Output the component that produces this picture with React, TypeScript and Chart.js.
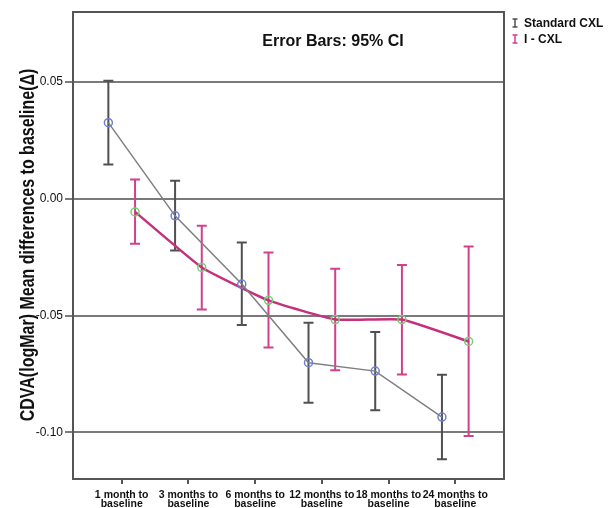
import React, { useEffect, useRef } from "react";
import { Chart, registerables } from "chart.js";

Chart.register(...registerables);

const categories: string[][] = [
  ["1 month to", "baseline"],
  ["3 months to", "baseline"],
  ["6 months to", "baseline"],
  ["12 months to", "baseline"],
  ["18 months to", "baseline"],
  ["24 months to", "baseline"],
];

const standardMean = [0.0326, -0.0073, -0.0365, -0.0702, -0.0738, -0.0935];
const standardLower = [0.0147, -0.0221, -0.054, -0.0873, -0.0906, -0.1115];
const standardUpper = [0.0506, 0.0077, -0.0187, -0.0531, -0.057, -0.0754];

const icxlMean = [-0.0056, -0.0294, -0.0435, -0.0517, -0.0517, -0.0611];
const icxlLower = [-0.0192, -0.0474, -0.0637, -0.0734, -0.0752, -0.1016];
const icxlUpper = [0.0083, -0.0115, -0.023, -0.03, -0.0283, -0.0204];

const yTicks = [-0.1, -0.05, 0, 0.05];
const seriesNames = ["Standard CXL", "I - CXL"];
const noteText = "Error Bars: 95% CI";
const yTitle = "CDVA(logMar) Mean differences to baseline(\u0394)";

const FONT = '"Liberation Sans", Arial, sans-serif';
const STD_LINE = "#7f7f7f";
const STD_BAR = "#505050";
const STD_MARK = "#6f80d2";
const ICXL_LINE = "#c4307c";
const ICXL_BAR = "#d2408c";
const ICXL_MARK = "#72d072";
const OFFSET = 0.2;

export default function App() {
  const ref = useRef<HTMLCanvasElement | null>(null);

  useEffect(() => {
    const canvas = ref.current;
    if (!canvas) return;

    const errorBars = {
      id: "errorBars",
      beforeDatasetsDraw(chart: any) {
        const ctx = chart.ctx;
        const xs = chart.scales.x;
        const ys = chart.scales.y;
        const groups = [
          { lo: standardLower, hi: standardUpper, off: -OFFSET, color: STD_BAR },
          { lo: icxlLower, hi: icxlUpper, off: OFFSET, color: ICXL_BAR },
        ];
        ctx.save();
        for (const g of groups) {
          ctx.strokeStyle = g.color;
          ctx.lineWidth = 2;
          for (let i = 0; i < categories.length; i++) {
            const x = xs.getPixelForValue(i + g.off);
            const y1 = ys.getPixelForValue(g.lo[i]);
            const y2 = ys.getPixelForValue(g.hi[i]);
            ctx.beginPath();
            ctx.moveTo(x, y1);
            ctx.lineTo(x, y2);
            ctx.moveTo(x - 5, y1);
            ctx.lineTo(x + 5, y1);
            ctx.moveTo(x - 5, y2);
            ctx.lineTo(x + 5, y2);
            ctx.stroke();
          }
        }
        ctx.restore();
      },
      afterDraw(chart: any) {
        const ctx = chart.ctx;
        const a = chart.chartArea;
        ctx.save();
        ctx.strokeStyle = "#555555";
        ctx.lineWidth = 2;
        ctx.strokeRect(a.left, a.top, a.right - a.left, a.bottom - a.top);
        ctx.fillStyle = "#111111";
        ctx.font = `bold 16px ${FONT}`;
        ctx.textAlign = "center";
        ctx.textBaseline = "middle";
        ctx.fillText(noteText, 333, 42);
        ctx.save();
        ctx.translate(33.5, 245);
        ctx.rotate(-Math.PI / 2);
        ctx.scale(1, 1.3);
        ctx.textBaseline = "alphabetic";
        ctx.font = `bold 16px ${FONT}`;
        ctx.fillText(yTitle, 0, 0);
        ctx.restore();
        const colors = [STD_BAR, ICXL_BAR];
        ctx.font = `bold 12px ${FONT}`;
        ctx.textAlign = "left";
        ctx.textBaseline = "middle";
        for (let i = 0; i < seriesNames.length; i++) {
          const cy = 23 + i * 16;
          const ix = 515;
          ctx.strokeStyle = colors[i];
          ctx.lineWidth = 1.5;
          ctx.beginPath();
          ctx.moveTo(ix, cy - 4);
          ctx.lineTo(ix, cy + 4);
          ctx.moveTo(ix - 2.5, cy - 4);
          ctx.lineTo(ix + 2.5, cy - 4);
          ctx.moveTo(ix - 2.5, cy + 4);
          ctx.lineTo(ix + 2.5, cy + 4);
          ctx.stroke();
          ctx.fillStyle = "#111111";
          ctx.fillText(seriesNames[i], 524, cy + 0.5);
        }
        ctx.restore();
      },
    };

    const chart = new Chart(canvas, {
      type: "line",
      data: {
        datasets: [
          {
            label: seriesNames[0],
            data: standardMean.map((v, i) => ({ x: i - OFFSET, y: v })),
            borderColor: STD_LINE,
            borderWidth: 1.5,
            pointRadius: 4,
            pointBorderWidth: 1.5,
            pointBorderColor: STD_MARK,
            pointBackgroundColor: "rgba(255,255,255,0)",
            tension: 0,
            fill: false,
          },
          {
            label: seriesNames[1],
            data: icxlMean.map((v, i) => ({ x: i + OFFSET, y: v })),
            borderColor: ICXL_LINE,
            borderWidth: 2.5,
            pointRadius: 4,
            pointBorderWidth: 1.5,
            pointBorderColor: ICXL_MARK,
            pointBackgroundColor: "rgba(255,255,255,0)",
            tension: 0.12,
            fill: false,
          },
        ],
      },
      options: {
        responsive: false,
        animation: false,
        layout: { padding: { left: 0, right: 112, top: 12, bottom: 0 } },
        plugins: {
          legend: { display: false },
          tooltip: { enabled: false },
          title: { display: false },
        },
        scales: {
          x: {
            type: "linear",
            min: -0.73,
            max: 5.73,
            afterFit(scale: any) {
              scale.height = 29;
            },
            afterBuildTicks(scale: any) {
              scale.ticks = categories.map((_, i) => ({ value: i }));
            },
            grid: {
              drawOnChartArea: false,
              drawTicks: true,
              tickLength: 5,
              color: "#555555",
              lineWidth: 2,
            },
            border: { display: true, color: "#555555", width: 2 },
            ticks: {
              autoSkip: false,
              maxRotation: 0,
              padding: 6,
              color: "#111111",
              font: { family: FONT, size: 10.5, weight: "bold", lineHeight: 0.9 },
              callback: (v: any) => categories[Math.round(Number(v))] ?? "",
            },
          },
          y: {
            type: "linear",
            min: -0.12,
            max: 0.08,
            afterFit(scale: any) {
              scale.width = 73;
            },
            afterBuildTicks(scale: any) {
              scale.ticks = yTicks.map((v) => ({ value: v }));
            },
            grid: {
              color: "#7a7a7a",
              lineWidth: 2,
              drawTicks: true,
              tickLength: 8,
            },
            border: { display: true, color: "#555555", width: 2 },
            ticks: {
              padding: 2,
              color: "#111111",
              font: { family: FONT, size: 12 },
              callback: (v: any) => Number(v).toFixed(2),
            },
          },
        },
      },
      plugins: [errorBars],
    } as any);

    return () => chart.destroy();
  }, []);

  return (
    <div style={{ position: "fixed", left: 0, top: 0, width: 616, height: 508, background: "#ffffff" }}>
      <canvas ref={ref} width={616} height={508} style={{ width: 616, height: 508 }} />
    </div>
  );
}
